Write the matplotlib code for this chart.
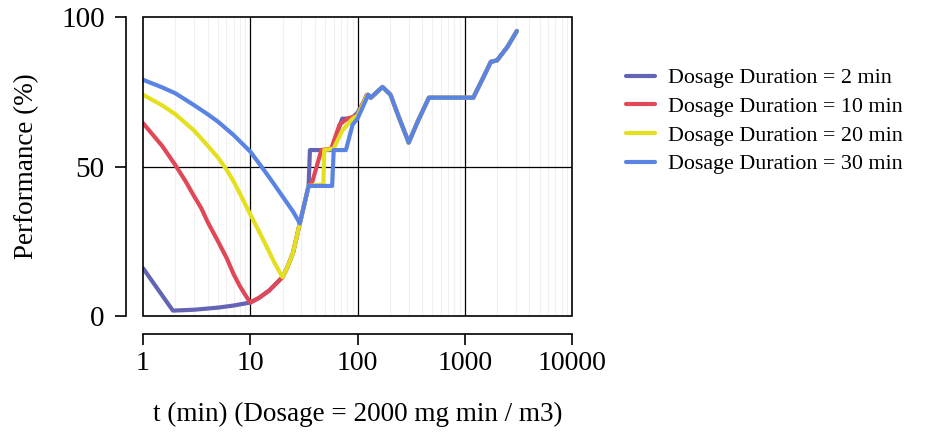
import numpy as np
import matplotlib.pyplot as plt
from matplotlib.patches import Rectangle
from matplotlib.ticker import FixedLocator, NullFormatter

plt.rcParams['font.family'] = ['Liberation Serif', 'DejaVu Serif']

# shared tail (all curves merge after ~t=125)
tail_t = [133, 171, 203, 240, 293, 300, 364, 463, 1000, 1200, 1500, 1750, 2000, 2500, 3060]
tail_y = [73, 76.6, 74, 67, 59, 58, 65, 73, 73, 73, 80, 85, 85.5, 90, 95.3]

# rising part after the minimum, same for everyone up to t=35
env_t = [2, 3, 5, 7, 10, 12, 15, 20, 22, 25, 29, 35]
env_y = [1.8, 2.1, 2.8, 3.5, 4.5, 6, 8.5, 13, 16, 21, 31, 43.5]

# Dosage Duration = 2 min
d2_t = [1, 1.9] + env_t[1:] + [36, 57, 72, 88, 100, 125]
d2_y = [16, 1.8] + env_y[1:] + [55.5, 55.5, 66, 66, 68, 74]

# Dosage Duration = 10 min
d10_t = [1, 1.5, 2, 2.5, 3, 3.5, 4, 5, 6, 7, 8, 9, 10, 12, 15, 20, 22, 25, 29, 35,
         38, 46, 57, 68, 80, 100, 122]
d10_y = [64.5, 57, 50.5, 45, 40, 36, 31.5, 25, 19.5, 14, 10, 7, 4.5, 6, 8.5, 13, 16, 21, 31, 43.5,
         45, 55.5, 56, 64, 66, 67, 74]

# Dosage Duration = 20 min
d20_t = [1, 1.5, 2, 3, 4, 5, 6, 7, 8, 10, 12, 15, 17, 20, 22, 25, 29, 35,
         48, 49, 60, 72, 90, 100, 124]
d20_y = [74, 70.5, 67.5, 62, 57, 53, 49, 45, 41, 34, 28.5, 21.5, 17.5, 13, 16, 21, 31, 43.5,
         44, 55.5, 56, 62, 66, 67, 74]

# Dosage Duration = 30 min
d30_t = [1, 1.5, 2, 3, 4, 5, 7, 10, 13, 16, 20, 25, 29, 35, 58, 60, 78, 90, 100, 126]
d30_y = [79, 76.5, 74.5, 70.5, 67.5, 65, 60.5, 55, 49.5, 45, 40, 35, 31, 43.5, 43.5, 55.5, 55.5, 64, 66, 74]

labels = ['Dosage Duration = 2 min', 'Dosage Duration = 10 min',
          'Dosage Duration = 20 min', 'Dosage Duration = 30 min']
colors = ['#6464b4', '#e04858', '#e4e020', '#5a84e4']
series = [(d2_t, d2_y), (d10_t, d10_y), (d20_t, d20_y), (d30_t, d30_y)]

fig = plt.figure(figsize=(9.28, 4.44), dpi=100)
ax = fig.add_axes([143 / 928, 128 / 444, 429 / 928, 299 / 444])
ax.set_axisbelow(True)

for (t, y), c, lab in zip(series, colors, labels):
    ax.plot(list(t) + tail_t, list(y) + tail_y, color=c, lw=3, label=lab,
            solid_joinstyle='round', solid_capstyle='round', zorder=3)

ax.set_xscale('log')
ax.set_xlim(1, 10000)
ax.set_ylim(0, 100)

# faint minor grid, black major grid
ax.xaxis.set_minor_locator(FixedLocator([m * 10 ** k for k in range(4) for m in range(2, 10)]))
ax.xaxis.set_minor_formatter(NullFormatter())
ax.grid(True, which='minor', axis='x', color='#f0f0f0', lw=0.8)
for xv in [10, 100, 1000]:
    ax.axvline(xv, color='black', lw=0.9, zorder=1)
ax.axhline(50, color='black', lw=0.9, zorder=1)

# R-style box plus detached axes
ax.add_patch(Rectangle((0, 0), 1, 1, transform=ax.transAxes, fill=False,
                       ec='black', lw=1.2, clip_on=False, zorder=5))
ax.spines['top'].set_visible(False)
ax.spines['right'].set_visible(False)
ax.spines['left'].set_position(('outward', 12.5))
ax.spines['bottom'].set_position(('outward', 13))
ax.spines['left'].set_linewidth(1.2)
ax.spines['bottom'].set_linewidth(1.2)

ax.set_xticks([1, 10, 100, 1000, 10000])
ax.set_xticklabels(['1', '10', '100', '1000', '10000'])
ax.set_yticks([0, 50, 100])
ax.tick_params(axis='both', which='major', length=8, width=1.2, labelsize=20)
ax.tick_params(axis='y', labelsize=21, pad=7)
ax.tick_params(axis='x', which='minor', length=0)
ax.tick_params(axis='x', pad=4)

ax.set_xlabel('t (min) (Dosage = 2000 mg min / m3)', fontsize=19.5, labelpad=19)
ax.set_ylabel('Performance (%)', fontsize=19.5, labelpad=16)

ax.legend(loc='upper left', bbox_to_anchor=(626 / 928, 1 - 68 / 444),
          bbox_transform=fig.transFigure, frameon=False, fontsize=15.8,
          handlelength=1.3, handletextpad=0.6, labelspacing=0.38,
          borderpad=0, borderaxespad=0)

fig.savefig('out.png', dpi=100)
